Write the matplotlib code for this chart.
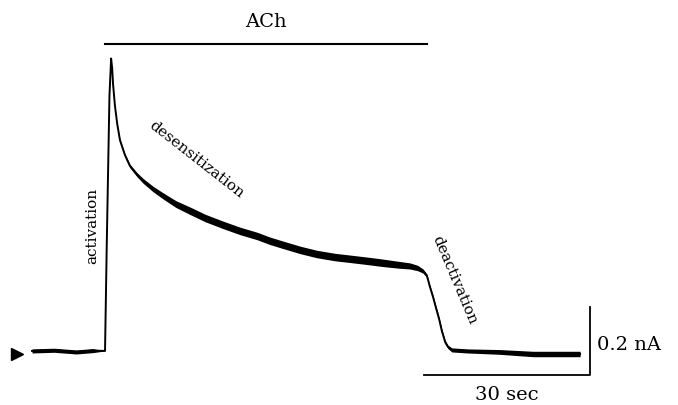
import numpy as np
import matplotlib
matplotlib.use("Agg")
import matplotlib.pyplot as plt

# whole-cell current trace (time in s, current in nA)
time_s = [0.0, 4.0, 8.0, 11.0, 13.2, 13.5, 14.0, 14.3, 14.5, 14.65, 15.0, 15.4,
          15.9, 16.8, 17.7, 19.0, 20.1, 21.9, 23.7, 26.0, 28.6, 31.3, 34.5,
          37.6, 40.7, 43.0, 45.4, 48.5, 51.5, 54.8, 57.5, 60.6, 63.5, 66.5,
          68.3, 69.7, 70.7, 71.4, 71.9, 72.5, 73.0, 73.6, 74.1, 74.7, 75.2,
          75.9, 78.7, 84.6, 90.6, 99.1]
current_nA = [0.0, 0.002, -0.003, 0.001, 0.0, 0.30, 0.75, 0.86, 0.83, 0.785, 0.72, 0.668,
              0.62, 0.576, 0.544, 0.518, 0.50, 0.476, 0.456, 0.432, 0.412, 0.391, 0.371,
              0.353, 0.338, 0.324, 0.312, 0.297, 0.285, 0.276, 0.271, 0.265, 0.259, 0.253,
              0.25, 0.244, 0.235, 0.221, 0.191, 0.159, 0.129, 0.094, 0.059, 0.026, 0.012,
              0.003, 0.0, -0.003, -0.009, -0.009]
# half-width of the noise band around the trace (nA)
noise_nA = [0.006, 0.006, 0.006, 0.006, 0.0, 0.0, 0.0, 0.0, 0.0, 0.0, 0.0, 0.001,
            0.002, 0.004, 0.005, 0.006, 0.007, 0.008, 0.009, 0.010, 0.011, 0.011, 0.011,
            0.011, 0.011, 0.011, 0.011, 0.011, 0.011, 0.011, 0.011, 0.011, 0.011, 0.010,
            0.009, 0.008, 0.006, 0.005, 0.005, 0.005, 0.005, 0.005, 0.005, 0.005, 0.005,
            0.006, 0.006, 0.007, 0.008, 0.008]

ach_on, ach_off, ach_level = 13.2, 71.4, 0.903
scale_t = 30
scale_i = 0.2

fig = plt.figure(figsize=(6.78, 4.06), dpi=100)
ax = fig.add_axes([0, 0, 1, 1])
ax.set_xlim(-5.79, 116.8)
ax.set_ylim(-0.159, 1.035)
ax.axis("off")

t = np.array(time_s)
i = np.array(current_nA)
n = np.array(noise_nA)
ax.fill_between(t, i - n, i + n, color="black", lw=0)
ax.plot(t, i, color="black", lw=1.4)

# ACh application bar
ax.plot([ach_on, ach_off], [ach_level, ach_level], color="black", lw=1.5)
ax.text((ach_on + ach_off) / 2, 0.97, "ACh", ha="center", va="center",
        fontsize=14, family="DejaVu Serif")

# scale bars
sx = 100.9
sy = -0.071
ax.plot([sx - scale_t, sx, sx], [sy, sy, sy + scale_i], color="black", lw=1.3)
ax.text(sx + 1.3, 0.02, "0.2 nA", ha="left", va="center", fontsize=14,
        family="DejaVu Serif")
ax.text(sx - scale_t / 2, -0.128, "30 sec", ha="center", va="center", fontsize=14,
        family="DejaVu Serif")

# holding-level arrowhead
ax.plot([-2.7], [-0.009], marker=">", color="black", markersize=9)

# phase labels
ax.text(10.85, 0.37, "activation", rotation=90, ha="center", va="center",
        fontsize=11, family="DejaVu Serif")
ax.text(29.8, 0.565, "desensitization", rotation=-38, ha="center", va="center",
        fontsize=11, family="DejaVu Serif", rotation_mode="anchor")
ax.text(76.4, 0.212, "deactivation", rotation=-67, ha="center", va="center",
        fontsize=11, family="DejaVu Serif", rotation_mode="anchor")

fig.savefig("out.png", dpi=100)
